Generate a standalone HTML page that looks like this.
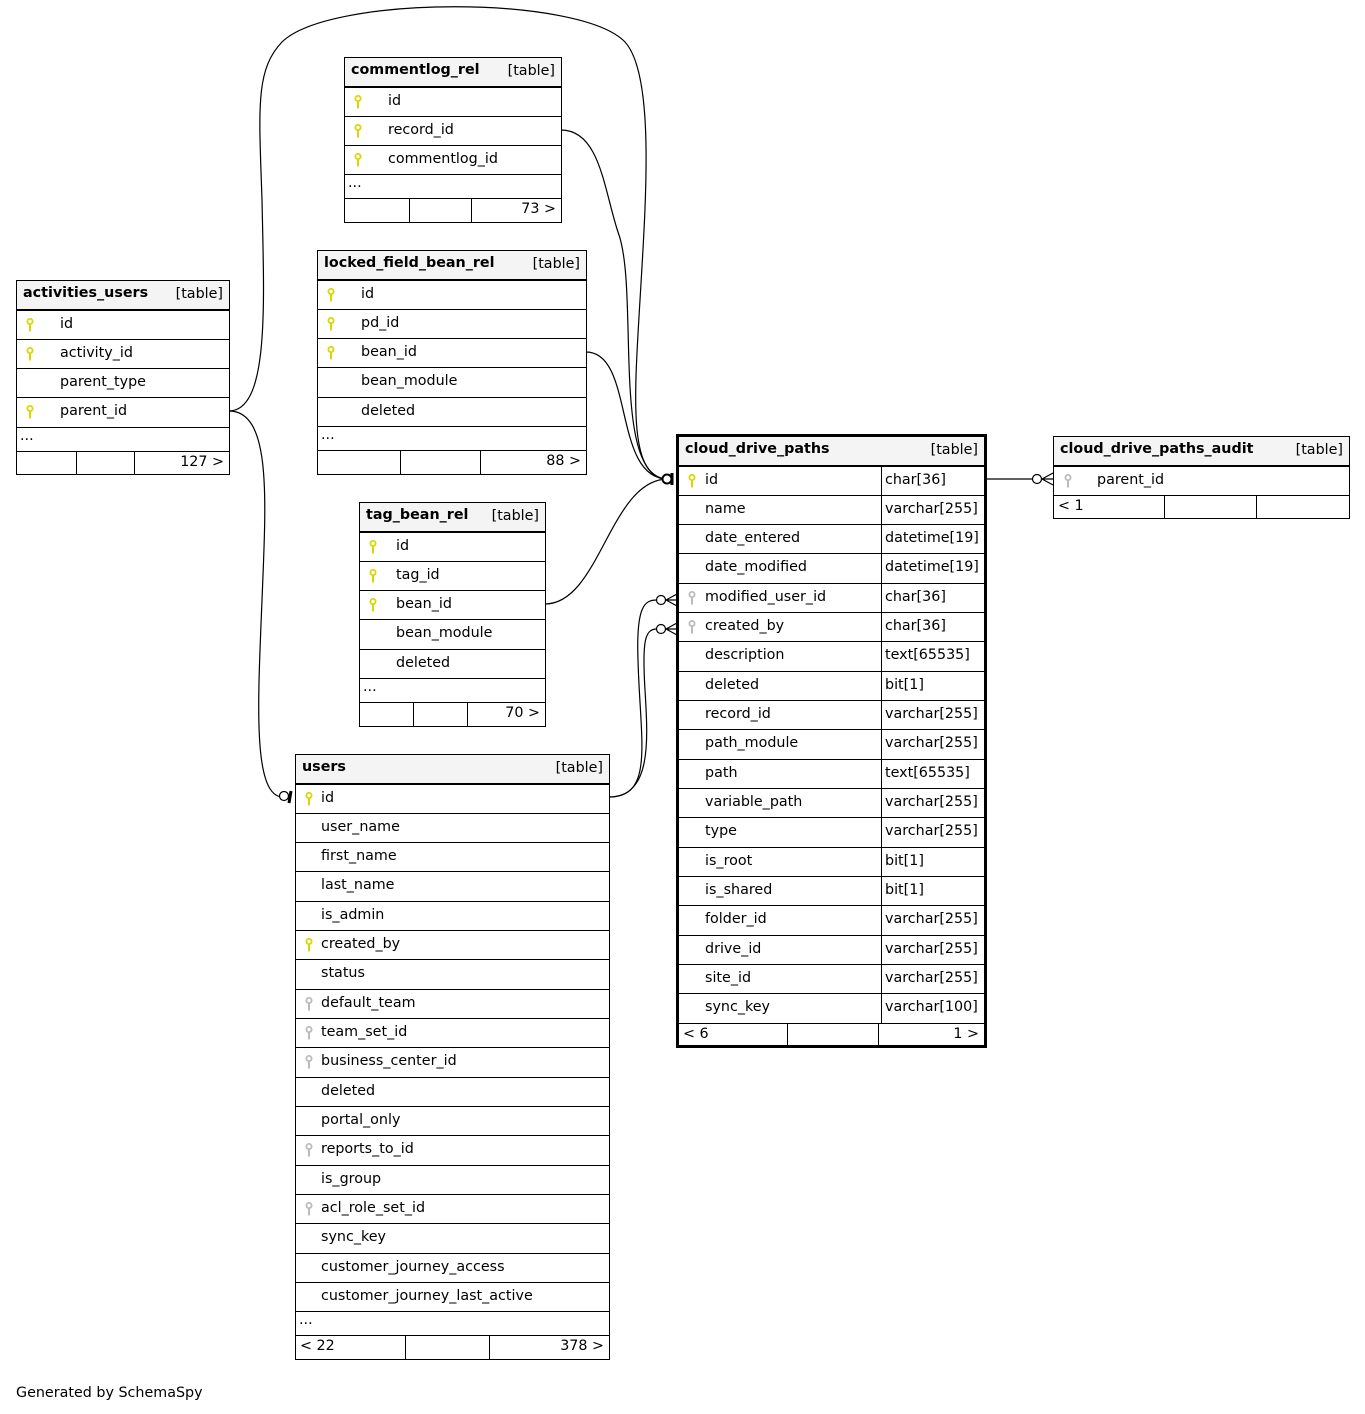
<!DOCTYPE html>
<html><head><meta charset="utf-8"><style>
body{margin:0;width:1365px;height:1414px;background:#fff;position:relative;font-family:"DejaVu Sans","Liberation Sans",sans-serif;font-size:14.3px;color:#000;overflow:hidden}
.t{position:absolute;border:1px solid #000;box-sizing:border-box;background:#fff}
.t.b{border:3px solid #000}
.h{height:28.5px;box-sizing:border-box;background:#f4f4f4;border-bottom:1px solid #000;position:relative}
.h .n{position:absolute;left:6px;top:4px;font-weight:bold}
.h .k{position:absolute;right:6px;top:5px}
.r{height:29.33px;box-sizing:border-box;border-top:1px solid #000;position:relative;white-space:nowrap}
.r:first-of-type{border-top:none}
.r span{position:absolute;top:5px}
.r svg{position:absolute;top:7px}
.d{height:24px;box-sizing:border-box;border-top:1px solid #000;position:relative}
.d span{position:absolute;left:3px;top:0px}
.f{height:24px;box-sizing:border-box;border-top:1px solid #000;position:relative}
.f i{position:absolute;top:0;bottom:0;border-left:1px solid #000}
.f span{position:absolute;top:2px}
.c{position:absolute;top:0;bottom:0;border-left:1px solid #000}
</style></head><body>
<svg width="0" height="0" style="position:absolute"><defs>
<symbol id="ky" viewBox="0 0 8 14"><circle cx="4" cy="3.5" r="2.6" fill="none" stroke="#d8d800" stroke-width="1.8"/><rect x="3" y="6" width="2" height="7.5" fill="#d8d800"/></symbol>
<symbol id="kg" viewBox="0 0 8 14"><circle cx="4" cy="3.5" r="2.6" fill="none" stroke="#bbb" stroke-width="1.8"/><rect x="3" y="6" width="2" height="7.5" fill="#bbb"/></symbol>
</defs></svg>

<svg width="1365" height="1414" style="position:absolute;left:0;top:0" fill="none" stroke="#000" stroke-width="1.2">
<path d="M229,411 C270,411 264,300 262,200 C259,110 255,70 282,42 C330,-5 580,-5 625,42 C655,75 646,200 640,300 C634,400 628,479 668,479"/>
<path d="M229,411 C272,411 266,500 262,600 C258,700 252,797 283,797"/>
<path d="M561,130 C600,130 604,190 618,232 C640,290 610,479 668,479"/>
<path d="M586,352 C635,352 612,479 668,479"/>
<path d="M545,604 C600,604 610,479 668,479"/>
<path d="M609,797 C655,797 640,740 638,660 C636,605 645,600 657,600"/>
<path d="M609,797 C652,797 648,740 645,690 C642,640 645,629 657,629"/>
<path d="M986,479 L1032,479"/>
<circle cx="667" cy="479" r="4.5" fill="#fff" stroke-width="2"/>
<path d="M672,473 L672,485" stroke-width="3"/>
<circle cx="284" cy="796" r="4.5" fill="#fff"/>
<path d="M291,791 L289,803" stroke-width="3"/>
<circle cx="661" cy="600" r="4.5" fill="#fff"/>
<path d="M666,600 L677,600 M666,600 L677,594 M666,600 L677,606"/>
<circle cx="661" cy="629" r="4.5" fill="#fff"/>
<path d="M666,629 L677,629 M666,629 L677,623 M666,629 L677,635"/>
<circle cx="1037" cy="479" r="4.5" fill="#fff"/>
<path d="M1042,479 L1053,479 M1042,479 L1053,473 M1042,479 L1053,485"/>
</svg>

<div class="t" style="left:344px;top:57px;width:218px;height:166px">
<div class="h"><span class="n">commentlog_rel</span><span class="k">[table]</span></div>
<div class="r"><svg style="left:9px" width="8" height="14"><use href="#ky"/></svg><span style="left:43px">id</span></div>
<div class="r"><svg style="left:9px" width="8" height="14"><use href="#ky"/></svg><span style="left:43px">record_id</span></div>
<div class="r"><svg style="left:9px" width="8" height="14"><use href="#ky"/></svg><span style="left:43px">commentlog_id</span></div>
<div class="d"><span>...</span></div>
<div class="f"><i style="left:64px"></i><i style="left:126px"></i><span style="right:5px">73 &gt;</span></div>
</div>

<div class="t" style="left:317px;top:250px;width:270px;height:225px">
<div class="h"><span class="n">locked_field_bean_rel</span><span class="k">[table]</span></div>
<div class="r"><svg style="left:9px" width="8" height="14"><use href="#ky"/></svg><span style="left:43px">id</span></div>
<div class="r"><svg style="left:9px" width="8" height="14"><use href="#ky"/></svg><span style="left:43px">pd_id</span></div>
<div class="r"><svg style="left:9px" width="8" height="14"><use href="#ky"/></svg><span style="left:43px">bean_id</span></div>
<div class="r"><span style="left:43px">bean_module</span></div>
<div class="r"><span style="left:43px">deleted</span></div>
<div class="d"><span>...</span></div>
<div class="f"><i style="left:82px"></i><i style="left:162px"></i><span style="right:5px">88 &gt;</span></div>
</div>

<div class="t" style="left:16px;top:280px;width:214px;height:195px">
<div class="h"><span class="n">activities_users</span><span class="k">[table]</span></div>
<div class="r"><svg style="left:9px" width="8" height="14"><use href="#ky"/></svg><span style="left:43px">id</span></div>
<div class="r"><svg style="left:9px" width="8" height="14"><use href="#ky"/></svg><span style="left:43px">activity_id</span></div>
<div class="r"><span style="left:43px">parent_type</span></div>
<div class="r"><svg style="left:9px" width="8" height="14"><use href="#ky"/></svg><span style="left:43px">parent_id</span></div>
<div class="d"><span>...</span></div>
<div class="f"><i style="left:59px"></i><i style="left:117px"></i><span style="right:5px">127 &gt;</span></div>
</div>

<div class="t" style="left:359px;top:502px;width:187px;height:225px">
<div class="h"><span class="n">tag_bean_rel</span><span class="k">[table]</span></div>
<div class="r"><svg style="left:9px" width="8" height="14"><use href="#ky"/></svg><span style="left:36px">id</span></div>
<div class="r"><svg style="left:9px" width="8" height="14"><use href="#ky"/></svg><span style="left:36px">tag_id</span></div>
<div class="r"><svg style="left:9px" width="8" height="14"><use href="#ky"/></svg><span style="left:36px">bean_id</span></div>
<div class="r"><span style="left:36px">bean_module</span></div>
<div class="r"><span style="left:36px">deleted</span></div>
<div class="d"><span>...</span></div>
<div class="f"><i style="left:53px"></i><i style="left:107px"></i><span style="right:5px">70 &gt;</span></div>
</div>

<div class="t" style="left:295px;top:754px;width:315px;height:606px">
<div class="h"><span class="n">users</span><span class="k">[table]</span></div>
<div class="r"><svg style="left:9px" width="8" height="14"><use href="#ky"/></svg><span style="left:25px">id</span></div>
<div class="r"><span style="left:25px">user_name</span></div>
<div class="r"><span style="left:25px">first_name</span></div>
<div class="r"><span style="left:25px">last_name</span></div>
<div class="r"><span style="left:25px">is_admin</span></div>
<div class="r"><svg style="left:9px" width="8" height="14"><use href="#ky"/></svg><span style="left:25px">created_by</span></div>
<div class="r"><span style="left:25px">status</span></div>
<div class="r"><svg style="left:9px" width="8" height="14"><use href="#kg"/></svg><span style="left:25px">default_team</span></div>
<div class="r"><svg style="left:9px" width="8" height="14"><use href="#kg"/></svg><span style="left:25px">team_set_id</span></div>
<div class="r"><svg style="left:9px" width="8" height="14"><use href="#kg"/></svg><span style="left:25px">business_center_id</span></div>
<div class="r"><span style="left:25px">deleted</span></div>
<div class="r"><span style="left:25px">portal_only</span></div>
<div class="r"><svg style="left:9px" width="8" height="14"><use href="#kg"/></svg><span style="left:25px">reports_to_id</span></div>
<div class="r"><span style="left:25px">is_group</span></div>
<div class="r"><svg style="left:9px" width="8" height="14"><use href="#kg"/></svg><span style="left:25px">acl_role_set_id</span></div>
<div class="r"><span style="left:25px">sync_key</span></div>
<div class="r"><span style="left:25px">customer_journey_access</span></div>
<div class="r"><span style="left:25px">customer_journey_last_active</span></div>
<div class="d"><span>...</span></div>
<div class="f"><span style="left:4px">&lt; 22</span><i style="left:109px"></i><i style="left:193px"></i><span style="right:5px">378 &gt;</span></div>
</div>

<div class="t b" style="left:676px;top:434px;width:311px;height:614px">
<div class="h"><span class="n">cloud_drive_paths</span><span class="k">[table]</span></div>
<div style="position:relative">
<div class="c" style="left:202px"></div>
<div class="r"><svg style="left:9px" width="8" height="14"><use href="#ky"/></svg><span style="left:26px">id</span><span style="left:206px">char[36]</span></div>
<div class="r"><span style="left:26px">name</span><span style="left:206px">varchar[255]</span></div>
<div class="r"><span style="left:26px">date_entered</span><span style="left:206px">datetime[19]</span></div>
<div class="r"><span style="left:26px">date_modified</span><span style="left:206px">datetime[19]</span></div>
<div class="r"><svg style="left:9px" width="8" height="14"><use href="#kg"/></svg><span style="left:26px">modified_user_id</span><span style="left:206px">char[36]</span></div>
<div class="r"><svg style="left:9px" width="8" height="14"><use href="#kg"/></svg><span style="left:26px">created_by</span><span style="left:206px">char[36]</span></div>
<div class="r"><span style="left:26px">description</span><span style="left:206px">text[65535]</span></div>
<div class="r"><span style="left:26px">deleted</span><span style="left:206px">bit[1]</span></div>
<div class="r"><span style="left:26px">record_id</span><span style="left:206px">varchar[255]</span></div>
<div class="r"><span style="left:26px">path_module</span><span style="left:206px">varchar[255]</span></div>
<div class="r"><span style="left:26px">path</span><span style="left:206px">text[65535]</span></div>
<div class="r"><span style="left:26px">variable_path</span><span style="left:206px">varchar[255]</span></div>
<div class="r"><span style="left:26px">type</span><span style="left:206px">varchar[255]</span></div>
<div class="r"><span style="left:26px">is_root</span><span style="left:206px">bit[1]</span></div>
<div class="r"><span style="left:26px">is_shared</span><span style="left:206px">bit[1]</span></div>
<div class="r"><span style="left:26px">folder_id</span><span style="left:206px">varchar[255]</span></div>
<div class="r"><span style="left:26px">drive_id</span><span style="left:206px">varchar[255]</span></div>
<div class="r"><span style="left:26px">site_id</span><span style="left:206px">varchar[255]</span></div>
<div class="r"><span style="left:26px">sync_key</span><span style="left:206px">varchar[100]</span></div>
</div>
<div class="f"><span style="left:4px">&lt; 6</span><i style="left:108px"></i><i style="left:199px"></i><span style="right:5px">1 &gt;</span></div>
</div>

<div class="t" style="left:1053px;top:436px;width:297px;height:83px">
<div class="h"><span class="n">cloud_drive_paths_audit</span><span class="k">[table]</span></div>
<div class="r"><svg style="left:10px" width="8" height="14"><use href="#kg"/></svg><span style="left:43px">parent_id</span></div>
<div class="f"><span style="left:4px">&lt; 1</span><i style="left:110px"></i><i style="left:202px"></i></div>
</div>

<div style="position:absolute;left:16px;top:1385px">Generated by SchemaSpy</div>
</body></html>
